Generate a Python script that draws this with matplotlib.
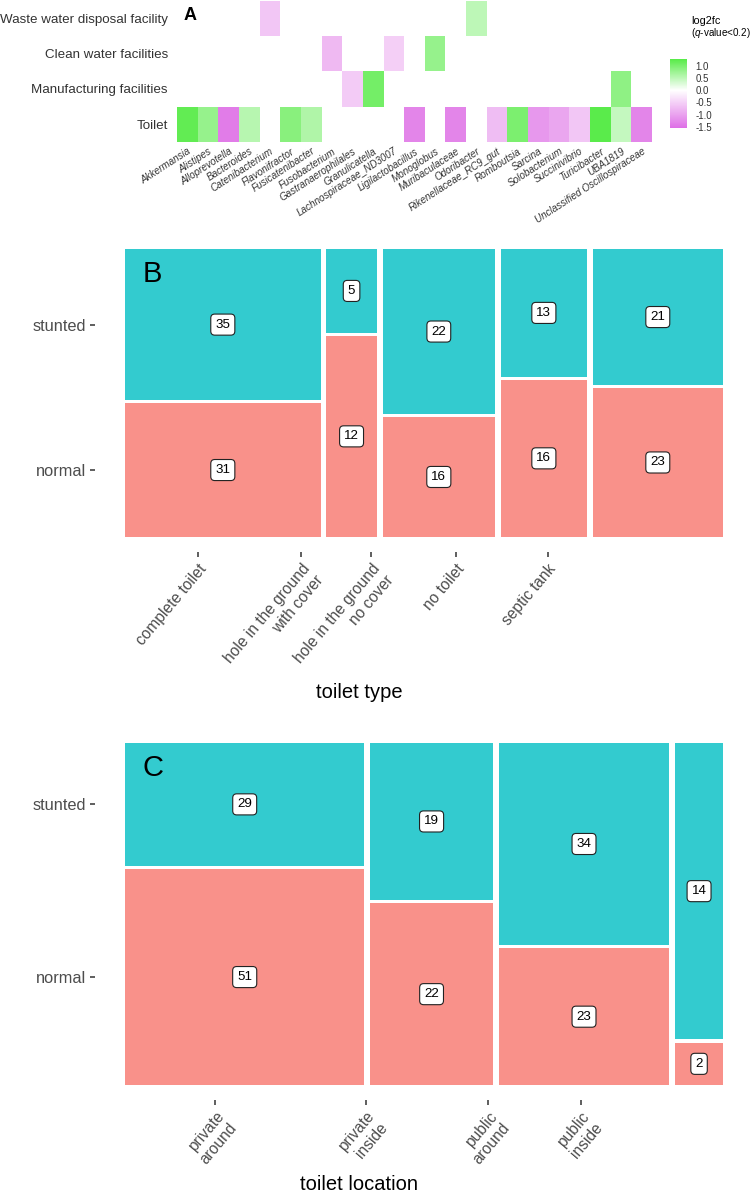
import matplotlib
matplotlib.use("Agg")
import matplotlib.pyplot as plt
import numpy as np
from matplotlib.colors import LinearSegmentedColormap, Normalize
from matplotlib.cm import ScalarMappable
from matplotlib.patches import Rectangle

plt.rcParams['font.family'] = ['Liberation Sans', 'DejaVu Sans']
plt.rcParams['mathtext.fontset'] = 'custom'
plt.rcParams['mathtext.it'] = 'Liberation Sans:italic'
plt.rcParams['mathtext.rm'] = 'Liberation Sans'

# ---------------- data ----------------
genera = ["Akkermansia", "Alistipes", "Alloprevotella", "Bacteroides", "Catenibacterium",
          "Flavonifractor", "Fusicatenibacter", "Fusobacterium", "Gastranaerophilales",
          "Granulicatella", "Lachnospiraceae_ND3007", "Ligilactobacillus", "Monoglobus",
          "Muribaculaceae", "Odoribacter", "Rikenellaceae_RC9_gut", "Romboutsia", "Sarcina",
          "Solobacterium", "Succinivibrio", "Turicibacter", "UBA1819",
          "Unclassified Oscillospiraceae"]
facilities = ["Toilet", "Manufacturing facilities", "Clean water facilities",
              "Waste water disposal facility"]
N_ = None
log2fc_toilet = [1.2, 0.8, -1.4, 0.55, N_, 0.9, 0.6, N_, N_, N_, N_, -1.3, N_, -1.3, N_,
                 -0.7, 1.0, -1.1, -0.95, -0.6, 1.25, 0.45, -1.3]
log2fc_manufacturing = [N_, N_, N_, N_, N_, N_, N_, N_, -0.55, 1.05, N_, N_, N_, N_, N_,
                        N_, N_, N_, N_, N_, N_, 0.85, N_]
log2fc_clean_water = [N_, N_, N_, N_, N_, N_, N_, -0.75, N_, N_, -0.5, N_, 0.8, N_, N_,
                      N_, N_, N_, N_, N_, N_, N_, N_]
log2fc_waste_water = [N_, N_, N_, N_, -0.6, N_, N_, N_, N_, N_, N_, N_, N_, N_, 0.5,
                      N_, N_, N_, N_, N_, N_, N_, N_]
cbar_ticks = [1.0, 0.5, 0.0, -0.5, -1.0, -1.5]

toilet_types = ["complete toilet", "hole in the ground\nwith cover",
                "hole in the ground\nno cover", "no toilet", "septic tank"]
type_normal = [31, 12, 16, 16, 23]
type_stunted = [35, 5, 22, 13, 21]

toilet_locations = ["private\naround", "private\ninside", "public\naround", "public\ninside"]
loc_normal = [51, 22, 23, 2]
loc_stunted = [29, 19, 34, 14]

groups = ["normal", "stunted"]

# ---------------- figure ----------------
W, H = 750, 1195
fig = plt.figure(figsize=(W / 100, H / 100), dpi=100)


def px_axes(x0, y0, x1, y1, **kw):
    return fig.add_axes([x0 / W, 1 - y1 / H, (x1 - x0) / W, (y1 - y0) / H], **kw)


GREY = '#4D4D4D'

# ---------------- panel A ----------------
vmin, vmax = -1.55, 1.28
mid = (0 - vmin) / (vmax - vmin)
cmap = LinearSegmentedColormap.from_list(
    'lfc', [(0, '#DE6FE6'), (mid, '#FFFFFF'), (1, '#58EB48')])
cmap.set_bad((1, 1, 1, 0))
norm = Normalize(vmin=vmin, vmax=vmax)

rows = [log2fc_toilet, log2fc_manufacturing, log2fc_clean_water, log2fc_waste_water]
M = np.array([[np.nan if v is None else v for v in r] for r in rows], dtype=float)
M = np.ma.masked_invalid(M)

axA = px_axes(177, 0.5, 652, 142)
axA.imshow(M, cmap=cmap, norm=norm, aspect='auto', origin='lower',
           interpolation='nearest', extent=(-0.5, len(genera) - 0.5, -0.5, len(facilities) - 0.5))
for s in axA.spines.values():
    s.set_visible(False)
axA.set_yticks(range(len(facilities)))
axA.set_yticklabels(facilities, fontsize=9.6, color='#333333')
axA.set_xticks(range(len(genera)))
axA.set_xticklabels(genera, fontsize=7.1, style='italic', color='#333333',
                    rotation=33, ha='right', rotation_mode='anchor')
axA.tick_params(length=0, axis='y', pad=6.5)
axA.tick_params(length=0, axis='x', pad=3)
fig.text(184 / W, 1 - 15 / H, 'A', fontsize=13, weight='bold', va='center', ha='left')

cax = px_axes(670, 59, 687, 128)
cb = fig.colorbar(ScalarMappable(norm=norm, cmap=cmap), cax=cax, ticks=cbar_ticks)
cb.outline.set_visible(False)
cb.ax.set_yticklabels([f"{t:.1f}" for t in cbar_ticks])
cb.ax.tick_params(length=3, color='white', width=0.8, labelsize=7, labelcolor='#333333', pad=3)
fig.text(691 / W, 1 - 21 / H, 'log2fc', fontsize=7.8, va='center', ha='left')
fig.text(691 / W, 1 - 33 / H, r'($\it{q}$-value<0.2)', fontsize=7.1, va='center', ha='left')

# ---------------- mosaic panels ----------------
RED = '#F8766D'
CYAN = '#00BFC4'


def mosaic(box, tickbox, labels, normal, stunted, title, title_y, panel, panel_y):
    x0, y0, x1, y1 = box
    ax = px_axes(x0, y0, x1, y1)
    tax = px_axes(tickbox[0], y0, tickbox[1], y1)
    tax.patch.set_alpha(0)
    ax.patch.set_alpha(0)
    gap = 0.01
    ntot = sum(normal) + sum(stunted)
    x = 0.0
    centres = []
    first = None
    for n, s in zip(normal, stunted):
        tot = n + s
        w = tot / ntot
        pn = n / tot
        ax.add_patch(Rectangle((x, 0), w, pn, facecolor=RED, alpha=0.8, lw=0))
        ax.add_patch(Rectangle((x, pn + gap), w, 1 - pn, facecolor=CYAN, alpha=0.8, lw=0))
        bb = dict(boxstyle='round,pad=0.34,rounding_size=0.3', fc='white', ec='#222222', lw=0.8)
        ax.text(x + w / 2, pn / 2, str(n), ha='center', va='center', fontsize=9.6, bbox=bb)
        ax.text(x + w / 2, pn + gap + (1 - pn) / 2, str(s), ha='center', va='center',
                fontsize=9.6, bbox=bb)
        centres.append(x + w / 2)
        if first is None:
            first = [pn / 2, pn + gap + (1 - pn) / 2]
        x += w + gap
    xr = 1 + gap * (len(normal) - 1)
    yr = 1 + gap
    for a in (ax, tax):
        a.set_xlim(0, xr)
        a.set_ylim(0, yr)
    ax.set_xticks([])
    ax.set_yticks([])
    for s_ in ax.spines.values():
        s_.set_visible(False)
    for k, s_ in tax.spines.items():
        s_.set_visible(False)
    tax.spines['left'].set_position(('outward', (tickbox[0] - (x0 - 30)) * 0.72))
    tax.spines['bottom'].set_position(('outward', 15 * 0.72))
    tax.set_xticks(centres)
    tax.set_xticklabels(labels, rotation=50, ha='right', va='top', rotation_mode='anchor',
                        fontsize=11.2, color=GREY, multialignment='right')
    tax.set_yticks(first)
    tax.set_yticklabels(groups, fontsize=11.8, color=GREY)
    tax.tick_params(axis='both', length=3.5, width=1.1, color='#333333')
    tax.tick_params(axis='y', pad=3)
    tax.tick_params(axis='x', pad=3)
    fig.text((tickbox[0] + tickbox[1]) / 2 / W, 1 - title_y / H, title, fontsize=14.5,
             ha='center', va='center', color='black')
    fig.text(143 / W, 1 - panel_y / H, panel, fontsize=21, ha='left', va='baseline')


mosaic((125, 249, 723, 537), (119, 600), toilet_types, type_normal, type_stunted,
       'toilet type', 693, 'B', 282)
mosaic((125, 743, 723, 1085), (119, 600), toilet_locations, loc_normal, loc_stunted,
       'toilet location', 1184, 'C', 776)

fig.savefig('out.png', dpi=100)
